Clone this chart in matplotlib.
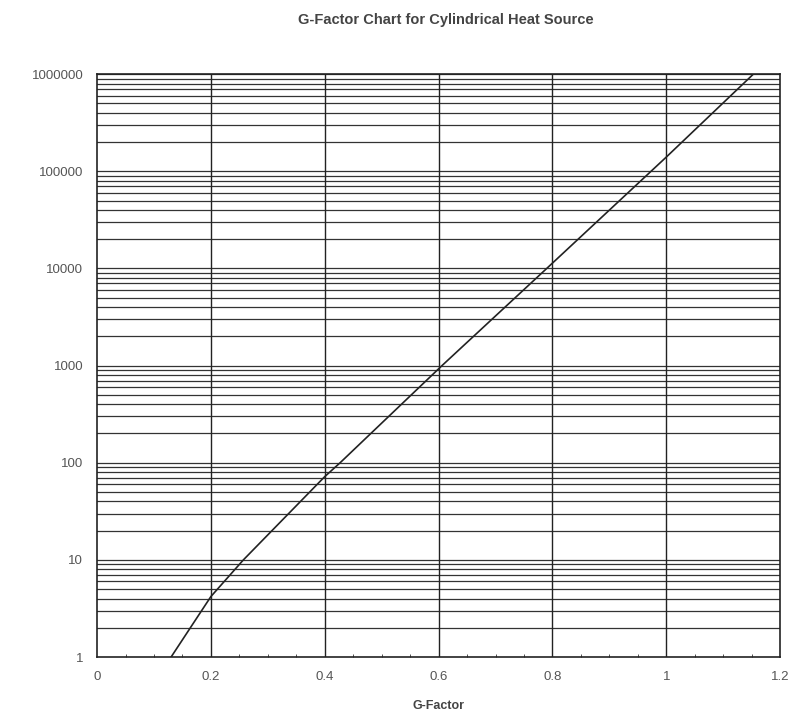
import numpy as np
import matplotlib.pyplot as plt
from matplotlib.ticker import FixedLocator, NullFormatter

# curva G-factor vs numero de Fourier
g_factor = [0.13, 0.20, 0.257, 0.40, 0.427, 0.606, 0.79, 1.00, 1.153]
fourier = [1, 4.2, 10, 72, 100, 1000, 10000, 140000, 1000000]

x_ticks = [0, 0.2, 0.4, 0.6, 0.8, 1.0, 1.2]
x_labels = ['0', '0.2', '0.4', '0.6', '0.8', '1', '1.2']
y_ticks = [1, 10, 100, 1000, 10000, 100000, 1000000]
y_labels = ['1', '10', '100', '1000', '10000', '100000', '1000000']

plt.rcParams['font.family'] = ['Liberation Sans', 'DejaVu Sans']

fig = plt.figure(figsize=(7.96, 7.13), dpi=100)
ax = fig.add_axes([0.122, 0.0785, 0.858, 0.8175])

ax.set_yscale('log')
ax.set_xlim(0, 1.2)
ax.set_ylim(1, 1e6)

# rejilla horizontal: todas las subdivisiones logaritmicas
minor_y = [m * 10 ** d for d in range(6) for m in range(2, 10)]
for yv in minor_y + y_ticks[1:]:
    ax.axhline(yv, color='#333333', lw=0.9, zorder=1)
for xv in x_ticks[1:-1]:
    ax.axvline(xv, color='#222222', lw=1.0, zorder=1)

ax.plot(g_factor, fourier, color='#222222', lw=1.2, zorder=3)

ax.set_xticks(x_ticks)
ax.set_xticklabels(x_labels)
ax.xaxis.set_minor_locator(FixedLocator(np.arange(0, 1.2001, 0.05)))
ax.set_yticks(y_ticks)
ax.set_yticklabels(y_labels)
ax.yaxis.set_minor_formatter(NullFormatter())
ax.tick_params(axis='y', which='both', length=0, labelsize=9.5, labelcolor='#555555', pad=10)
ax.tick_params(axis='x', which='major', length=0, labelsize=9.5, labelcolor='#555555', pad=10)
ax.tick_params(axis='x', which='minor', direction='in', length=2, color='#333333')

for s in ax.spines.values():
    s.set_color('#222222')
    s.set_linewidth(1.2)

ax.set_xlabel('G-Factor', fontsize=9, fontweight='bold', color='#444444', labelpad=12)
fig.text(0.56, 0.972, 'G-Factor Chart for Cylindrical Heat Source', ha='center', va='center',
         fontsize=10.5, fontweight='bold', color='#444444')

fig.savefig('out.png', dpi=100)
